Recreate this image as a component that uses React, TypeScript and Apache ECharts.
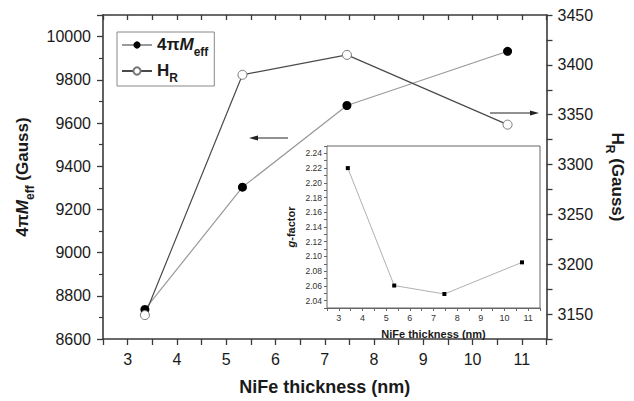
import React, { useEffect, useRef } from 'react';
import * as echarts from 'echarts';

// NiFe thickness (nm) for the main plot
const thickness = [3.35, 5.33, 7.45, 10.71];
// 4πMeff (Gauss), left axis
const meffValues = [8737, 9303, 9681, 9932];
// HR (Gauss), right axis
const hrValues = [3149, 3390, 3410, 3340];
// inset: g-factor vs thickness
const insetThickness = [3.38, 5.34, 7.46, 10.74];
const gFactorValues = [2.22, 2.0605, 2.049, 2.092];

const font = '"Liberation Sans", Arial, sans-serif';

export default function App() {
  const ref = useRef<HTMLDivElement>(null);
  useEffect(() => {
    const chart = echarts.init(ref.current!, null, { renderer: 'svg' });
    const axisColor = '#3a3a3a';
    const textColor = '#1a1a1a';
    const intLabel = (v: number) =>
      Math.abs(v - Math.round(v)) < 1e-6 ? String(Math.round(v)) : '';

    const richMain = (size: number) => ({
      b: { fontSize: size, fontWeight: 'bold', fontFamily: font, color: textColor, lineHeight: size + 1, verticalAlign: 'top' },
      bi: { fontSize: size, fontWeight: 'bold', fontStyle: 'italic', fontFamily: font, color: textColor, lineHeight: size + 1, verticalAlign: 'top' },
      sub: { fontSize: Math.round(size * 0.68), fontWeight: 'bold', fontFamily: font, color: textColor, lineHeight: Math.round(size * 0.68), padding: [Math.round(size * 0.6), 0, 0, 0], verticalAlign: 'top' },
    });

    const mainX = {
      type: 'value',
      gridIndex: 0,
      min: 2.5,
      max: 11.5,
      interval: 0.5,
      axisLine: { show: true, lineStyle: { color: axisColor, width: 1.6 } },
      splitLine: { show: false },
    };

    const option: any = {
      animation: false,
      backgroundColor: '#fff',
      grid: [
        { left: 103, top: 15, width: 444, height: 330 },
        {
          left: 327, top: 146, width: 213, height: 162, show: true,
          borderColor: '#666', borderWidth: 1, backgroundColor: '#fff', z: 3,
        },
      ],
      legend: {
        data: ['meff', 'hr'],
        orient: 'vertical',
        left: 117,
        top: 32,
        padding: [4, 6, 2, 4],
        itemGap: 4,
        itemWidth: 30,
        itemHeight: 9,
        borderColor: '#888',
        borderWidth: 1,
        backgroundColor: '#fff',
        formatter: (name: string) =>
          name === 'meff' ? '{b|4π}{bi|M}{sub|eff}' : '{b|H}{sub|R}',
        textStyle: { rich: richMain(17) },
      },
      xAxis: [
        {
          ...mainX,
          position: 'bottom',
          axisTick: { show: true, inside: false, length: 6, lineStyle: { color: axisColor, width: 1.3 } },
          axisLabel: { formatter: intLabel, fontSize: 16, fontFamily: font, color: textColor, margin: 12 },
          name: 'NiFe thickness (nm)',
          nameLocation: 'middle',
          nameGap: 39,
          nameTextStyle: { fontSize: 18, fontWeight: 'bold', fontFamily: font, color: textColor },
        },
        {
          ...mainX,
          position: 'top',
          axisTick: { show: true, inside: true, length: 5, lineStyle: { color: axisColor, width: 1.3 } },
          axisLabel: { show: false },
        },
        {
          type: 'value',
          gridIndex: 1,
          min: 2.5,
          max: 11.5,
          interval: 0.5,
          axisLine: { show: true, lineStyle: { color: '#666', width: 1 } },
          axisTick: { show: true, inside: false, length: 3, lineStyle: { color: '#666' } },
          splitLine: { show: false },
          axisLabel: { formatter: intLabel, fontSize: 9, fontFamily: font, color: '#333', margin: 5 },
          name: 'NiFe thickness (nm)',
          nameLocation: 'middle',
          nameGap: 20,
          nameTextStyle: { fontSize: 11, fontWeight: 'bold', fontFamily: font, color: textColor },
        },
      ],
      yAxis: [
        {
          type: 'value',
          gridIndex: 0,
          min: 8600,
          max: 10100,
          interval: 200,
          position: 'left',
          axisLine: { show: true, lineStyle: { color: axisColor, width: 1.6 } },
          axisTick: { show: true, inside: false, length: 6, lineStyle: { color: axisColor, width: 1.3 } },
          minorTick: { show: true, splitNumber: 2, length: 4, lineStyle: { color: axisColor, width: 1.2 } },
          splitLine: { show: false },
          axisLabel: {
            formatter: (v: number) => (Math.round(v) % 200 === 0 ? String(Math.round(v)) : ''),
            fontSize: 16, fontFamily: font, color: textColor, margin: 12,
          },
          name: '{b|4π}{bi|M}{sub|eff}{b| (Gauss)}',
          nameLocation: 'middle',
          nameGap: 61,
          nameTextStyle: { rich: richMain(17) },
        },
        {
          type: 'value',
          gridIndex: 0,
          min: 3125,
          max: 3450,
          interval: 25,
          position: 'right',
          axisLine: { show: true, lineStyle: { color: axisColor, width: 1.6 } },
          axisTick: { show: true, inside: false, length: 6, lineStyle: { color: axisColor, width: 1.3 } },
          splitLine: { show: false },
          axisLabel: {
            formatter: (v: number) => (Math.round(v) % 50 === 0 ? String(Math.round(v)) : ''),
            fontSize: 16, fontFamily: font, color: textColor, margin: 11,
          },
          name: '{b|H}{sub|R}{b| (Gauss)}',
          nameLocation: 'middle',
          nameRotate: -90,
          nameGap: 52,
          nameTextStyle: { rich: richMain(17) },
        },
        {
          type: 'value',
          gridIndex: 1,
          min: 2.03,
          max: 2.25,
          interval: 0.01,
          axisLine: { show: true, lineStyle: { color: '#666', width: 1 } },
          axisTick: { show: true, inside: false, length: 3, lineStyle: { color: '#666' } },
          splitLine: { show: false },
          axisLabel: {
            formatter: (v: number) => {
              const r = Math.round(v * 100);
              return r % 2 === 0 ? (r / 100).toFixed(2) : '';
            },
            fontSize: 8.5, fontFamily: font, color: '#333', margin: 5,
          },
          name: '{i|g}{n|-factor}',
          nameLocation: 'middle',
          nameGap: 31,
          nameTextStyle: {
            rich: {
              i: { fontSize: 11, fontWeight: 'bold', fontStyle: 'italic', fontFamily: font, color: textColor },
              n: { fontSize: 11, fontWeight: 'bold', fontFamily: font, color: textColor },
            },
          },
        },
      ],
      series: [
        {
          name: 'meff',
          type: 'line',
          xAxisIndex: 0,
          yAxisIndex: 0,
          data: thickness.map((t, i) => [t, meffValues[i]]),
          symbol: 'circle',
          symbolSize: 9,
          itemStyle: { color: '#000' },
          lineStyle: { color: '#9a9a9a', width: 1.2 },
        },
        {
          name: 'hr',
          type: 'line',
          xAxisIndex: 0,
          yAxisIndex: 1,
          data: thickness.map((t, i) => [t, hrValues[i]]),
          symbol: 'circle',
          symbolSize: 9,
          itemStyle: { color: '#fff', borderColor: '#777', borderWidth: 1 },
          lineStyle: { color: '#4a4a4a', width: 1.2 },
        },
        {
          name: 'g',
          type: 'line',
          xAxisIndex: 2,
          yAxisIndex: 2,
          z: 5,
          data: insetThickness.map((t, i) => [t, gFactorValues[i]]),
          symbol: 'rect',
          symbolSize: 4,
          itemStyle: { color: '#000' },
          lineStyle: { color: '#b0b0b0', width: 1 },
        },
      ],
      graphic: [
        { type: 'line', shape: { x1: 288, y1: 138, x2: 256, y2: 138 }, style: { stroke: '#222', lineWidth: 1 } },
        { type: 'polygon', shape: { points: [[249, 138], [258, 135.5], [258, 140.5]] }, style: { fill: '#222' } },
        { type: 'line', shape: { x1: 490, y1: 113, x2: 532, y2: 113 }, style: { stroke: '#222', lineWidth: 1 } },
        { type: 'polygon', shape: { points: [[539, 113], [530, 110.5], [530, 115.5]] }, style: { fill: '#222' } },
      ],
    };
    chart.setOption(option);
    return () => chart.dispose();
  }, []);
  return (
    <div
      ref={ref}
      style={{ position: 'fixed', left: 0, top: 0, width: 634, height: 401 }}
    />
  );
}
